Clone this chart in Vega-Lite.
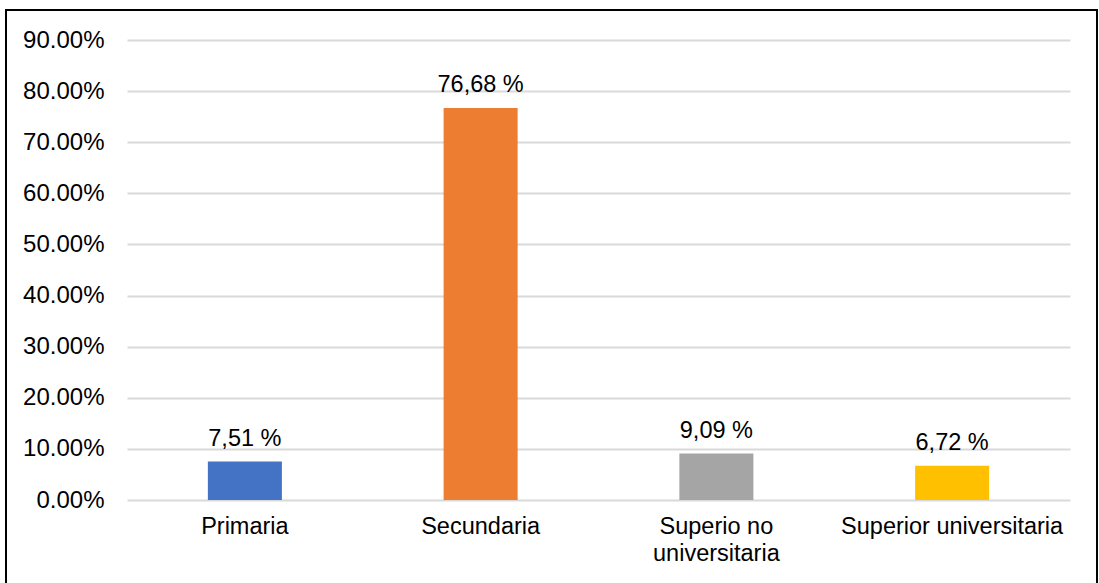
{
  "$schema": "https://vega.github.io/schema/vega-lite/v6.json",
  "width": 1091,
  "height": 580,
  "autosize": "none",
  "padding": {"left": 6, "top": 10, "right": 2, "bottom": 0},
  "background": "white",
  "data": {
    "values": [
      {"nivel": "Primaria", "pct": 0.0751, "label": "7,51 %"},
      {"nivel": "Secundaria", "pct": 0.7668, "label": "76,68 %"},
      {"nivel": "Superio no universitaria", "pct": 0.0909, "label": "9,09 %"},
      {"nivel": "Superior universitaria", "pct": 0.0672, "label": "6,72 %"}
    ]
  },
  "encoding": {
    "x": {
      "field": "nivel",
      "type": "nominal",
      "sort": null,
      "scale": {"range": [121, 1064], "paddingInner": 0.686, "paddingOuter": 0.343},
      "axis": {
        "title": null,
        "offset": -90,
        "domain": false,
        "ticks": false,
        "tickSize": 0,
        "labelAngle": 0,
        "labelPadding": 14,
        "labelLimit": 0,
        "labelFont": "Liberation Sans",
        "labelFontSize": 23.5,
        "labelColor": "#000000",
        "labelLineHeight": 27,
        "labelExpr": "datum.value == 'Superio no universitaria' ? ['Superio no', 'universitaria'] : datum.label"
      }
    },
    "y": {
      "field": "pct",
      "type": "quantitative",
      "scale": {"domain": [0, 0.9], "range": [490, 30], "nice": false, "zero": true},
      "axis": {
        "title": null,
        "offset": -121,
        "values": [0, 0.1, 0.2, 0.3, 0.4, 0.5, 0.6, 0.7, 0.8, 0.9],
        "format": ".2%",
        "domain": false,
        "ticks": false,
        "tickSize": 0,
        "labelPadding": 23,
        "labelLimit": 0,
        "labelFont": "Liberation Sans",
        "labelFontSize": 24,
        "labelColor": "#000000",
        "grid": true,
        "gridColor": "#d9d9d9",
        "gridWidth": 2
      }
    }
  },
  "layer": [
    {
      "mark": {"type": "bar"},
      "encoding": {
        "color": {
          "field": "nivel",
          "type": "nominal",
          "sort": null,
          "scale": {"range": ["#4472C4", "#ED7D31", "#A5A5A5", "#FFC000"]},
          "legend": null
        }
      }
    },
    {
      "mark": {"type": "text", "baseline": "alphabetic", "dy": -16, "font": "Liberation Sans", "fontSize": 23.5, "color": "#000000"},
      "encoding": {"text": {"field": "label"}}
    }
  ],
  "config": {
    "view": {"stroke": "#000000", "strokeWidth": 2}
  }
}
